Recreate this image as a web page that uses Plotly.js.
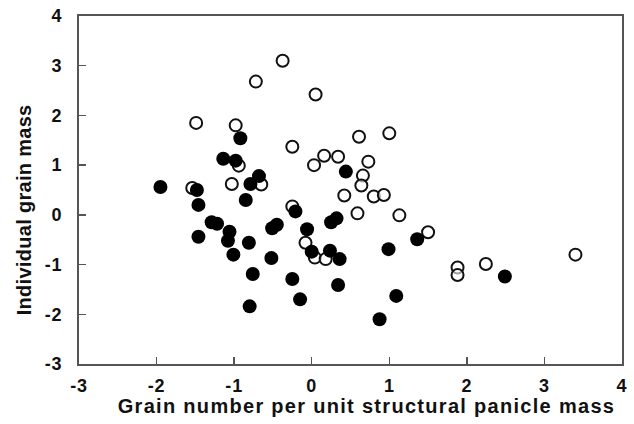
<!DOCTYPE html>
<html>
<head>
<meta charset="utf-8">
<script src="https://cdn.plot.ly/plotly-3.0.1.min.js"></script>
<style>
html,body{margin:0;padding:0;background:#fff;}
#chart{width:634px;height:424px;}
.xtick text,.ytick text{letter-spacing:0.8px;}
.annotation[data-index="0"] text{letter-spacing:1.3px;}
.annotation[data-index="1"] text{letter-spacing:0.3px;}
</style>
</head>
<body>
<div id="chart"></div>
<script>
// Filled circles
const filledX = [-1.95,-1.48,-1.46,-1.29,-1.22,-1.46,-1.06,-1.08,-1.01,-0.81,-0.85,-0.79,-0.68,-0.76,-0.80,-0.51,-0.45,-0.52,-0.21,-0.25,-0.15,-0.06,0.00,0.235,0.36,0.25,0.32,0.34,0.44,-0.92,-1.14,-0.98,1.36,0.99,2.49,1.09,0.875];
const filledY = [0.56,0.50,0.20,-0.15,-0.18,-0.44,-0.34,-0.52,-0.80,-0.56,0.30,0.62,0.78,-1.19,-1.84,-0.27,-0.20,-0.87,0.07,-1.29,-1.70,-0.29,-0.74,-0.72,-0.89,-0.15,-0.07,-1.41,0.87,1.54,1.13,1.09,-0.49,-0.69,-1.24,-1.63,-2.10];
// Open circles
const openX = [-0.375,-0.72,0.05,-1.49,-0.98,-0.25,0.61,1.00,0.16,0.34,0.03,0.73,-0.94,-1.03,-0.65,-1.54,0.66,0.64,0.42,0.80,0.93,0.59,1.13,1.50,-0.25,-0.08,0.04,0.18,1.88,1.88,2.245,3.40];
const openY = [3.10,2.68,2.42,1.85,1.80,1.37,1.57,1.64,1.19,1.17,1.00,1.07,0.99,0.62,0.61,0.54,0.79,0.59,0.39,0.37,0.40,0.03,-0.01,-0.35,0.17,-0.56,-0.86,-0.89,-1.06,-1.21,-0.99,-0.80];
const tickVals = [-3,-2,-1,0,1,2,3,4];
const xTitle = "Grain number per unit structural panicle mass";
const yTitle = "Individual grain mass";

const fontFam = "Liberation Sans, Arial, sans-serif";
const titleFont = {family: fontFam, size: 20, color: '#111', weight: 'bold'};
const traces = [
  {x: openX, y: openY, mode: 'markers', type: 'scatter',
   marker: {symbol: 'circle', size: 12, color: 'rgba(255,255,255,0.6)', line: {color: '#111', width: 2}}},
  {x: filledX, y: filledY, mode: 'markers', type: 'scatter',
   marker: {symbol: 'circle', size: 14, color: '#000', line: {color: '#000', width: 0}}}
];
const axisCommon = {
  range: [-3, 4], tickvals: tickVals, ticktext: tickVals.map(String),
  showgrid: false, zeroline: false, showline: true, linecolor: '#555', linewidth: 2,
  mirror: true, ticks: 'inside', ticklen: 7, tickwidth: 1.5, tickcolor: '#555',
  tickfont: {family: fontFam, size: 18, color: '#111', weight: 'bold'}
};
const layout = {
  width: 634, height: 424,
  margin: {l: 79, r: 12, t: 16, b: 60},
  paper_bgcolor: '#fff', plot_bgcolor: '#fff',
  showlegend: false,
  xaxis: Object.assign({}, axisCommon, {ticklabelstandoff: 4}),
  yaxis: Object.assign({}, axisCommon, {ticklabelstandoff: 11}),
  annotations: [
    {text: xTitle, xref: 'paper', yref: 'paper', x: 0.530, y: -0.083, xanchor: 'center', yanchor: 'top',
     showarrow: false, font: titleFont},
    {text: yTitle, xref: 'paper', yref: 'paper', x: -0.101, y: 0.4425, xanchor: 'center', yanchor: 'middle',
     textangle: -90, showarrow: false, font: titleFont}
  ]
};
Plotly.newPlot('chart', traces, layout, {displayModeBar: false, staticPlot: true});
</script>
</body>
</html>
